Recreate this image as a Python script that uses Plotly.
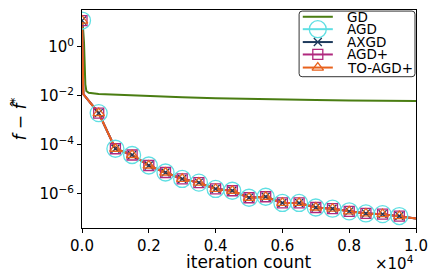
import plotly.graph_objects as go

# GD curve
gd_x = [0, 30, 60, 80, 100, 130, 200, 500, 1000, 2000, 3000, 4000, 5000, 6000, 7000, 8000, 9000, 10000]
gd_y = [12, 6, 1.5, 0.2, 0.03, 0.016, 0.0135, 0.012, 0.0112, 0.0098, 0.0088, 0.0081, 0.0075, 0.0071, 0.0068, 0.0066, 0.0064, 0.0062]

# accelerated methods (nearly identical curves)
acc_x = [0, 10, 20, 40, 500, 1000, 1500, 2000, 2500, 3000, 3500, 4000, 4500, 5000, 5500,
         6000, 6500, 7000, 7500, 8000, 8500, 9000, 9500, 10000]
acc_y = [12, 1.0, 0.05, 0.012, 2.0e-3, 7.0e-5, 3.9e-5, 1.45e-5, 7.5e-6, 4.1e-6, 2.9e-6, 1.6e-6,
         1.35e-6, 7.0e-7, 7.7e-7, 4.3e-7, 4.3e-7, 2.8e-7, 2.5e-7, 1.95e-7, 1.6e-7, 1.5e-7, 1.25e-7, 1.0e-7]

mark_x = [0, 500, 1000, 1500, 2000, 2500, 3000, 3500, 4000, 4500, 5000, 5500,
          6000, 6500, 7000, 7500, 8000, 8500, 9000, 9500]
mark_y = [12, 2.0e-3, 7.0e-5, 3.9e-5, 1.45e-5, 7.5e-6, 4.1e-6, 2.9e-6, 1.6e-6,
          1.35e-6, 7.0e-7, 7.7e-7, 4.3e-7, 4.3e-7, 2.8e-7, 2.5e-7, 1.95e-7, 1.6e-7, 1.5e-7, 1.25e-7]

legend_names = ["GD", "AGD", "AXGD", "AGD+", "TO-AGD+"]
series = ["AGD", "AXGD", "AGD+", "TO-AGD+"]
colors = {"GD": "#4a7d12", "AGD": "#5fdfe3", "AXGD": "#1e3a5c", "AGD+": "#b0287e", "TO-AGD+": "#e8621d"}
symbols = {"AGD": "circle-open", "AXGD": "x-thin-open", "AGD+": "square-open", "TO-AGD+": "triangle-up-open"}
sizes = {"AGD": 17, "AXGD": 8, "AGD+": 10, "TO-AGD+": 10}

xtick_vals = [0, 2000, 4000, 6000, 8000, 10000]
xtick_text = ["0.0", "0.2", "0.4", "0.6", "0.8", "1.0"]
ytick_vals = [1, 1e-2, 1e-4, 1e-6]
ytick_text = ["10<sup>0</sup>", "10<sup>−2</sup>", "10<sup>−4</sup>", "10<sup>−6</sup>"]

fig = go.Figure()
fig.add_trace(go.Scatter(x=gd_x, y=gd_y, mode="lines", name="GD", showlegend=False,
                         line=dict(color=colors["GD"], width=2)))
for s in series:
    fig.add_trace(go.Scatter(x=acc_x, y=acc_y, mode="lines", showlegend=False,
                             line=dict(color=colors[s], width=2)))
for s in series:
    fig.add_trace(go.Scatter(x=mark_x, y=mark_y, mode="markers", showlegend=False,
                             marker=dict(symbol=symbols[s], size=sizes[s], color=colors[s],
                                         line=dict(color=colors[s], width=1.3))))

# ---- manual legend (in plot-area fractions) ----
box_l, box_r, box_t, box_b = 0.650, 0.997, 0.995, 0.694
rx, ry = 0.009, 0.014
path = (f"M {box_l+rx},{box_b} L {box_r-rx},{box_b} Q {box_r},{box_b} {box_r},{box_b+ry} "
        f"L {box_r},{box_t-ry} Q {box_r},{box_t} {box_r-rx},{box_t} L {box_l+rx},{box_t} "
        f"Q {box_l},{box_t} {box_l},{box_t-ry} L {box_l},{box_b+ry} Q {box_l},{box_b} {box_l+rx},{box_b} Z")
fig.add_shape(type="path", path=path, xref="paper", yref="paper", layer="below",
              line=dict(color="#333", width=1), fillcolor="white")
entry_y = [0.969, 0.912, 0.853, 0.796, 0.736]
line_x0, line_x1, text_x = 0.661, 0.751, 0.790
for name, yy in zip(legend_names, entry_y):
    fig.add_trace(go.Scatter(x=[line_x0, line_x1], y=[yy, yy], xaxis="x2", yaxis="y2",
                             mode="lines", showlegend=False, hoverinfo="skip",
                             line=dict(color=colors[name], width=2)))
    if name in symbols:
        fig.add_trace(go.Scatter(x=[(line_x0 + line_x1) / 2], y=[yy], xaxis="x2", yaxis="y2",
                                 mode="markers", showlegend=False, hoverinfo="skip",
                                 marker=dict(symbol=symbols[name], size=sizes[name], color=colors[name],
                                             line=dict(color=colors[name], width=1.3))))
    fig.add_annotation(text=name, xref="paper", yref="paper", x=text_x, y=yy,
                       xanchor="left", yanchor="middle", showarrow=False, borderpad=0,
                       font=dict(size=13.5, color="black"))

fig.update_layout(
    width=436, height=280,
    margin=dict(l=82, r=20, t=10, b=52),
    paper_bgcolor="white", plot_bgcolor="white",
    font=dict(family="DejaVu Sans", size=15, color="black"),
    showlegend=False,
    xaxis=dict(range=[0, 10000], tickvals=xtick_vals, ticktext=xtick_text, automargin=False,
               showgrid=False, zeroline=False, showline=True, linecolor="black", linewidth=1,
               mirror=True, ticks="outside", ticklen=4, tickcolor="black"),
    yaxis=dict(type="log", range=[-7.39, 1.51], tickvals=ytick_vals, ticktext=ytick_text,
               automargin=False,
               showgrid=False, zeroline=False, showline=True, linecolor="black", linewidth=1,
               mirror=True, ticks="outside", ticklen=4, tickcolor="black"),
    xaxis2=dict(range=[0, 1], overlaying="x", anchor="y2", visible=False, automargin=False),
    yaxis2=dict(range=[0, 1], overlaying="y", anchor="x2", visible=False, automargin=False),
)
fig.add_annotation(text="iteration count", xref="paper", yref="paper", x=0.5, y=-0.158,
                   xanchor="center", yanchor="middle", showarrow=False, font=dict(size=17))
fig.add_annotation(text="<i>f</i> − <i>f̂</i><sup>*</sup>", xref="paper", yref="paper",
                   x=-0.19, y=0.5, xanchor="center", yanchor="middle", textangle=-90,
                   showarrow=False, font=dict(size=17))
fig.add_annotation(text="×10<sup>4</sup>", xref="paper", yref="paper", x=1.0, y=-0.105,
                   xanchor="right", yanchor="top", showarrow=False, font=dict(size=15))
fig.write_html("out.html", config={"displayModeBar": False},
               post_script="document.body.style.margin='0';")
